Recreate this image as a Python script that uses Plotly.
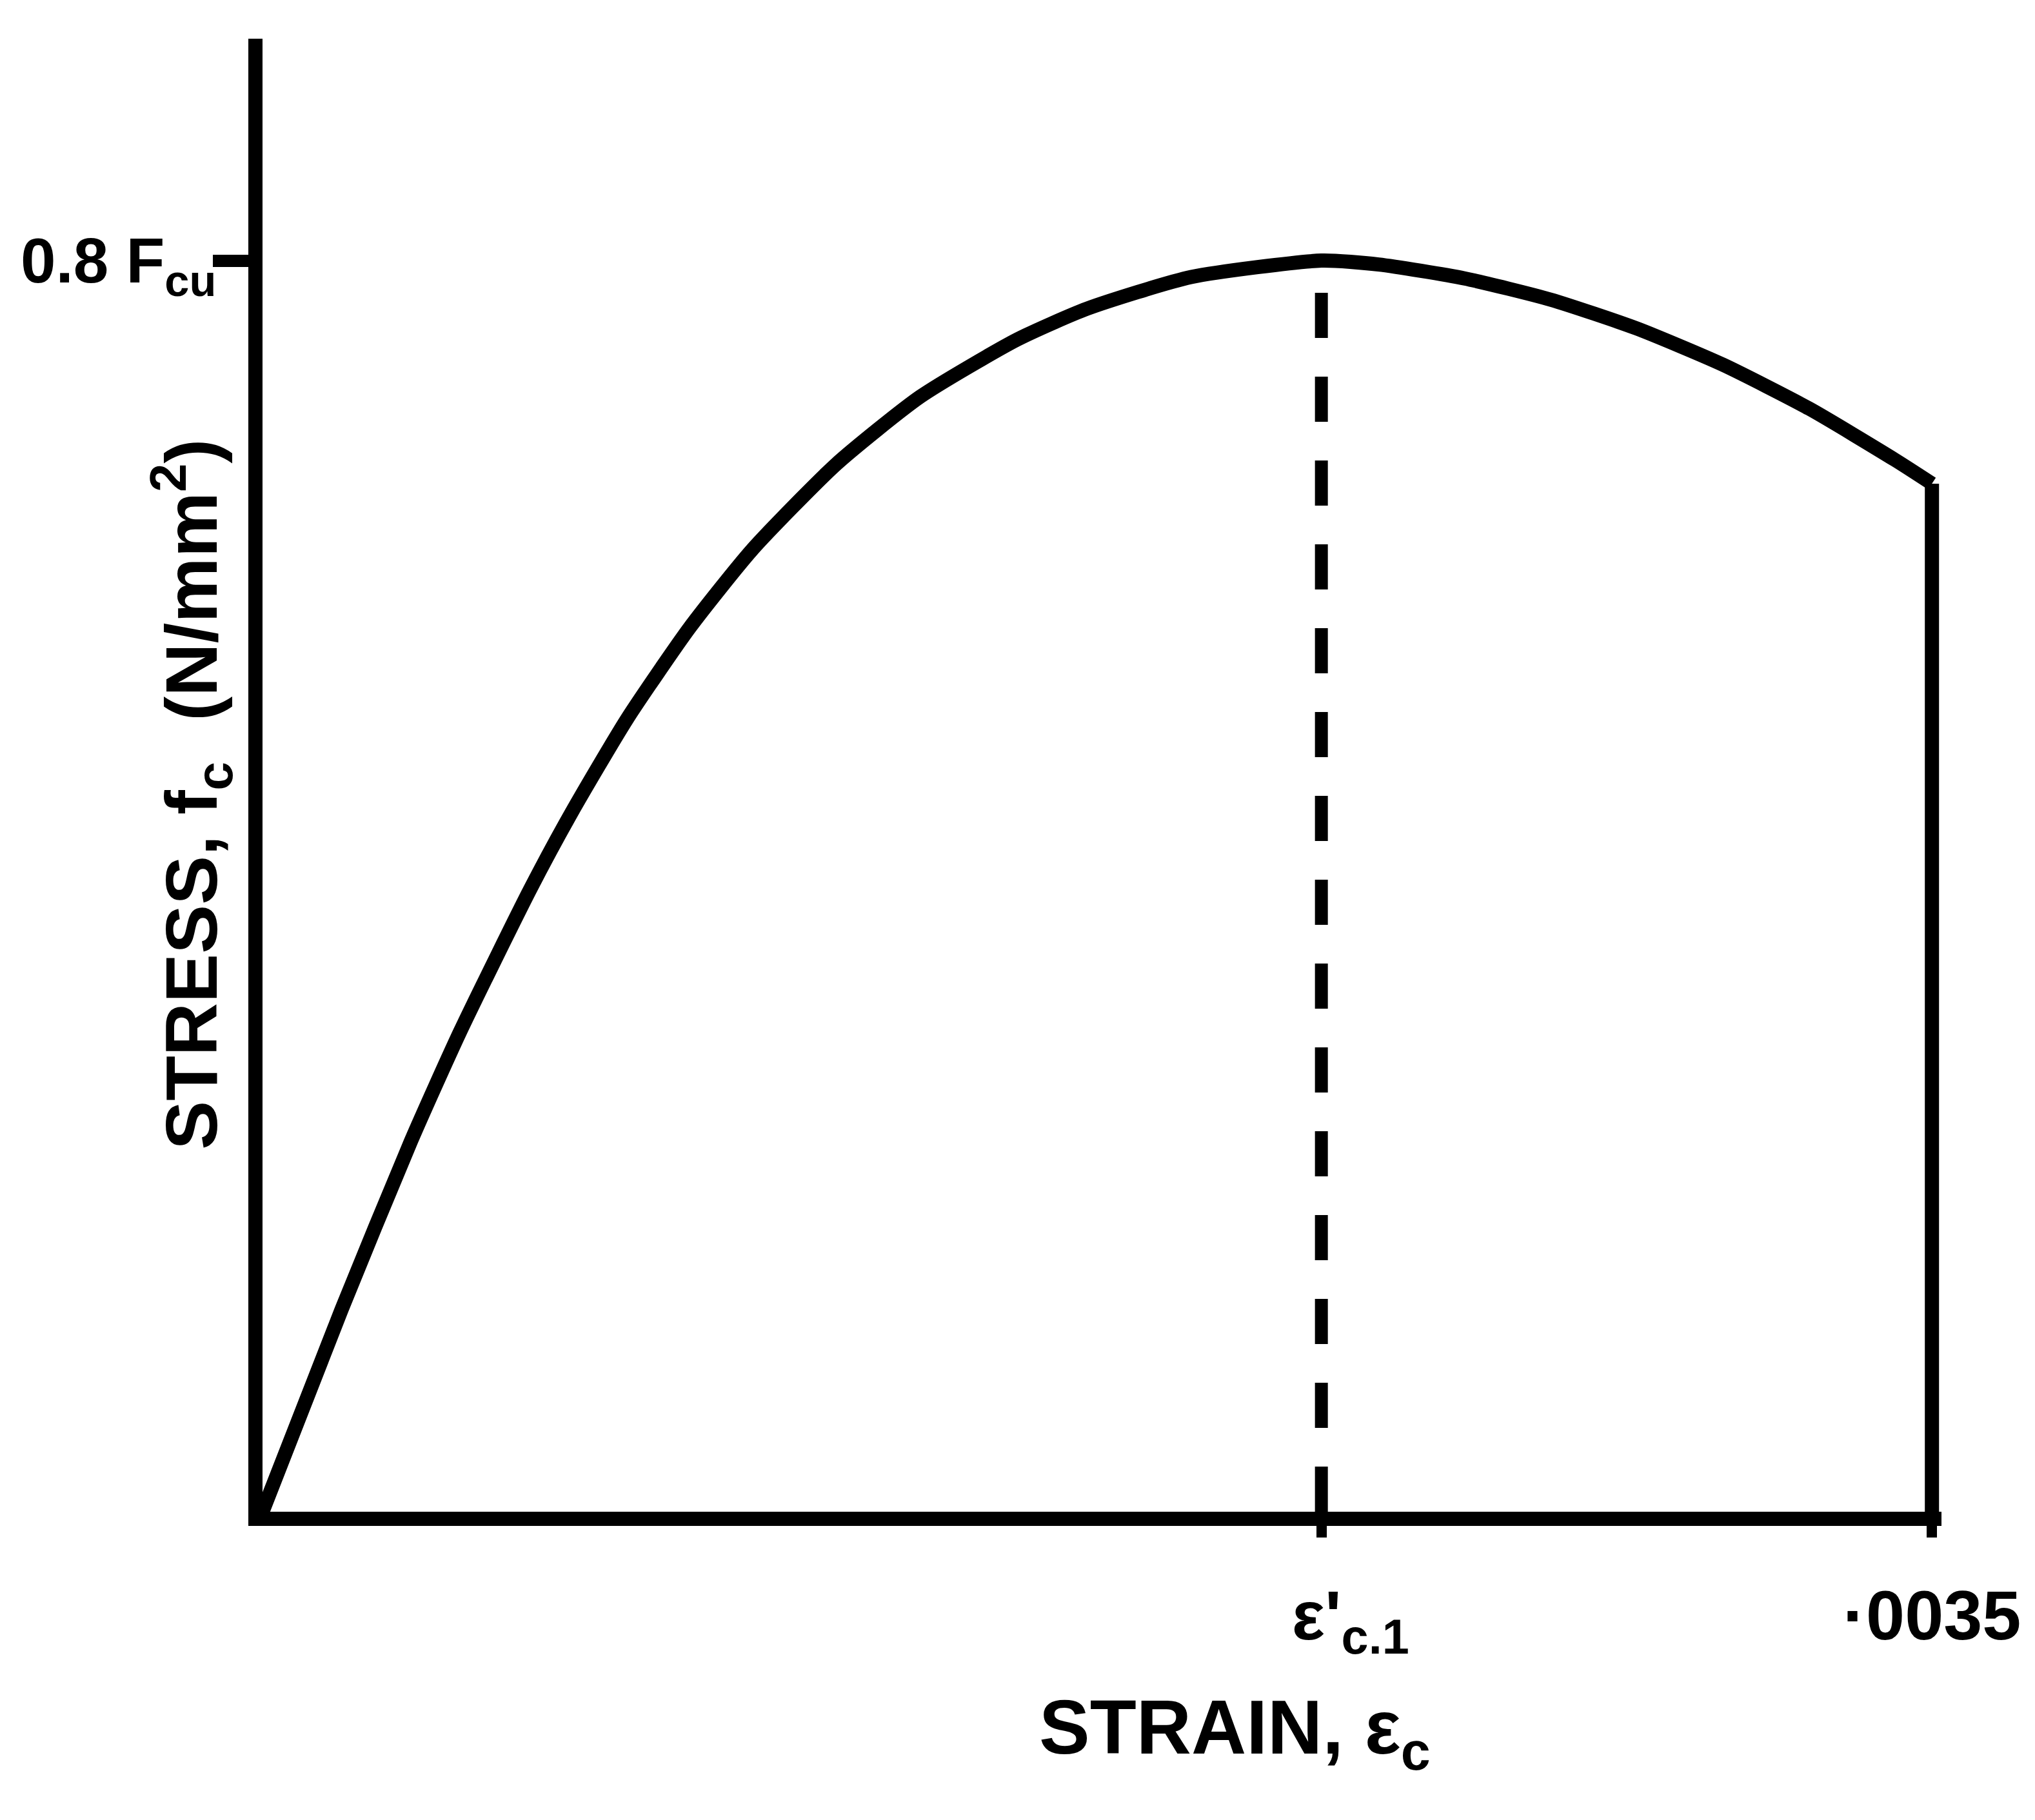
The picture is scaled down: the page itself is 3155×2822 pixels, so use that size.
import plotly.graph_objects as go

# Parabolic-rectangular style stress-strain curve for concrete (normalised to fcu)
strain = [0.0, 0.000166, 0.000311, 0.000414, 0.000561, 0.000648, 0.000764,
          0.000896, 0.001027, 0.001203, 0.001379, 0.001582, 0.001729,
          0.001947, 0.00222, 0.002340, 0.002520, 0.002701, 0.002881,
          0.003062, 0.003243, 0.003423, 0.0035]
stress = [0.0, 0.1295, 0.2368, 0.3068, 0.3979, 0.4471, 0.5068,
          0.5655, 0.6153, 0.6699, 0.7130, 0.7495, 0.7693,
          0.7895, 0.8, 0.7975, 0.7886, 0.7750, 0.7566,
          0.7334, 0.7053, 0.6725, 0.6574]

eps_c1 = 0.00222         # strain at peak stress
eps_cu = 0.0035          # ultimate strain
peak_stress = 0.8        # 0.8 fcu

x_tick_vals = [eps_c1, eps_cu]
x_tick_text = ["\u00a0\u00a0\u00a0ε'<sub>c.1</sub>", "·0035"]
y_tick_vals = [peak_stress]
y_tick_text = ["0.8 F<sub>cu</sub>"]

FONT = "Liberation Sans, Arial, sans-serif"
INK = "#000000"
LW = 22

fig = go.Figure()

# main curve
fig.add_trace(go.Scatter(
    x=strain, y=stress, mode="lines",
    line=dict(color=INK, width=LW, shape="spline", smoothing=0.6),
    hoverinfo="skip", showlegend=False,
))

# vertical drop at ultimate strain
fig.add_trace(go.Scatter(
    x=[eps_cu, eps_cu], y=[stress[-1], 0.0], mode="lines",
    line=dict(color=INK, width=LW),
    hoverinfo="skip", showlegend=False,
))

# dashed line below the peak (drawn upward so the dash pattern starts at the axis)
fig.add_trace(go.Scatter(
    x=[eps_c1, eps_c1], y=[0.0, peak_stress], mode="lines",
    line=dict(color=INK, width=20, dash="70px,60px"),
    hoverinfo="skip", showlegend=False,
))

W, H = 3155, 2822
L, R, T, B = 407, 145, 60, 478

fig.update_layout(
    width=W, height=H,
    margin=dict(l=L, r=R, t=T, b=B, pad=0),
    paper_bgcolor="white", plot_bgcolor="white",
    font=dict(family=FONT, color=INK),
    xaxis=dict(
        range=[0, 0.00352], showgrid=False, zeroline=False, automargin=False,
        showline=True, linecolor=INK, linewidth=LW,
        tickmode="array", tickvals=x_tick_vals, ticktext=x_tick_text,
        ticks="outside", ticklen=18, tickwidth=16, tickcolor=INK,
        ticklabelstandoff=28,
        tickfont=dict(family=FONT, size=108, color=INK, weight="bold"),
        fixedrange=True,
    ),
    yaxis=dict(
        range=[0, 0.9419], showgrid=False, zeroline=False, automargin=False,
        showline=True, linecolor=INK, linewidth=LW,
        tickmode="array", tickvals=y_tick_vals, ticktext=y_tick_text,
        ticks="outside", ticklen=55, tickwidth=19, tickcolor=INK,
        ticklabelstandoff=-25,
        tickfont=dict(family=FONT, size=98, color=INK, weight="bold"),
        fixedrange=True,
    ),
    annotations=[
        dict(text="STRAIN, ε<sub>c</sub>", xref="paper", yref="paper",
             x=0.5793, y=-0.150, xanchor="center", yanchor="middle",
             showarrow=False,
             font=dict(family=FONT, size=118, color=INK, weight="bold")),
        dict(text="STRESS, f<sub>c</sub>  (N/mm<sup>2</sup>)", xref="paper", yref="paper",
             x=-0.0423, y=0.4869, xanchor="center", yanchor="middle",
             textangle=-90, showarrow=False,
             font=dict(family=FONT, size=114, color=INK, weight="bold")),
    ],
)

fig.write_html("out.html")
